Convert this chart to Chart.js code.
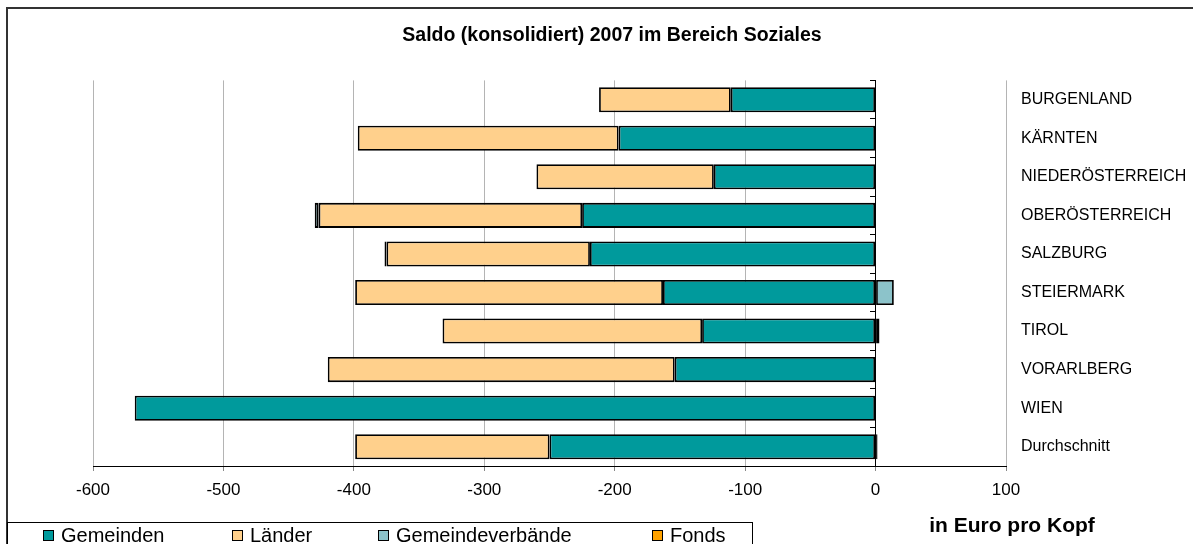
<!DOCTYPE html>
<html>
<head>
<meta charset="utf-8">
<script src="https://cdn.jsdelivr.net/npm/chart.js@4/dist/chart.umd.min.js"></script>
<style>
  body { margin: 0; background: #fff; }
  canvas { display: block; }
</style>
</head>
<body>
<canvas id="saldoChart" width="1193" height="544"></canvas>
<script>
const categories = ['BURGENLAND', 'KÄRNTEN', 'NIEDERÖSTERREICH', 'OBERÖSTERREICH', 'SALZBURG',
    'STEIERMARK', 'TIROL', 'VORARLBERG', 'WIEN', 'Durchschnitt'];
const gemeinden = [-111, -197, -124, -225, -219, -163, -133, -154, -568, -250];
const laender = [-101, -200, -136, -202, -156, -236, -199, -266, null, -149];
const gemeindeverbaende = [null, null, null, -3, -1.5, 14, 3, null, null, 1.5];
const fonds = [null, null, null, null, null, null, null, null, null, null];
const xMin = -600;
const xMax = 100;
const xStep = 100;

const FONT = '"Liberation Sans", Arial, sans-serif';

// frame, legend box and unit label like the Excel original
const decorations = {
    id: 'decorations',
    afterDraw(chart) {
        const ctx = chart.ctx;
        ctx.save();
        ctx.strokeStyle = '#333';
        ctx.lineWidth = 2;
        ctx.strokeRect(7, 8, 1200, 560);

        ctx.lineWidth = 1;
        ctx.strokeStyle = '#000';
        ctx.strokeRect(7.5, 522.5, 745, 40);

        const xs = [43, 232, 378, 652];
        ctx.font = '20px ' + FONT;
        ctx.textBaseline = 'middle';
        ctx.textAlign = 'left';
        chart.data.datasets.forEach((ds, i) => {
            ctx.fillStyle = ds.backgroundColor;
            ctx.fillRect(xs[i], 530, 10, 10);
            ctx.strokeStyle = '#000';
            ctx.strokeRect(xs[i] + 0.5, 530.5, 10, 10);
            ctx.fillStyle = '#000';
            ctx.fillText(ds.label, xs[i] + 18, 536);
        });

        ctx.font = 'bold 21px ' + FONT;
        ctx.textAlign = 'center';
        ctx.fillText('in Euro pro Kopf', 1012, 526);
        ctx.restore();
    }
};

const barStyle = {
    borderColor: '#000',
    borderWidth: 1.8,
    borderSkipped: false,
    barPercentage: 0.65,
    categoryPercentage: 1
};

new Chart(document.getElementById('saldoChart').getContext('2d'), {
    type: 'bar',
    data: {
        labels: categories,
        datasets: [
            { label: 'Gemeinden', data: gemeinden, backgroundColor: '#009A9C', ...barStyle },
            { label: 'Länder', data: laender, backgroundColor: '#FFD08C', ...barStyle },
            { label: 'Gemeindeverbände', data: gemeindeverbaende, backgroundColor: '#8CC3CA', ...barStyle },
            { label: 'Fonds', data: fonds, backgroundColor: '#FFA200', ...barStyle }
        ]
    },
    options: {
        indexAxis: 'y',
        responsive: false,
        animation: false,
        layout: { padding: { left: 31, right: 0, top: 0, bottom: 38 } },
        plugins: {
            legend: { display: false },
            tooltip: { enabled: false },
            title: {
                display: true,
                text: 'Saldo (konsolidiert) 2007 im Bereich Soziales',
                color: '#000',
                font: { family: FONT, size: 19.5, weight: 'bold' },
                padding: { top: 24, bottom: 33 }
            }
        },
        scales: {
            x: {
                type: 'linear',
                min: xMin,
                max: xMax,
                stacked: true,
                ticks: { stepSize: xStep, color: '#000', padding: 9, font: { family: FONT, size: 17 } },
                grid: {
                    color: (c) => (c.tick && c.tick.value === 0) ? 'rgba(0,0,0,0)' : '#b4b4b4',
                    tickLength: 5,
                    tickColor: '#888'
                },
                border: { color: '#000', width: 1 },
                afterFit: (scale) => { scale.height = 40; }
            },
            y: {
                type: 'category',
                position: 'right',
                stacked: true,
                grid: { display: false },
                border: { display: false },
                ticks: { color: '#000', padding: 7, font: { family: FONT, size: 16 } },
                afterFit: (scale) => { scale.width = 187; }
            },
            yPad: {
                type: 'category',
                axis: 'y',
                position: 'left',
                grid: { display: false },
                border: { display: false },
                ticks: { display: false },
                afterFit: (scale) => { scale.width = 62; }
            },
            yZero: {
                type: 'category',
                axis: 'y',
                position: { x: 0 },
                offset: true,
                grid: { drawOnChartArea: false, offset: true, tickLength: 5, color: '#000' },
                ticks: { display: false },
                border: { color: '#000', width: 1 }
            }
        }
    },
    plugins: [decorations]
});
</script>
</body>
</html>
